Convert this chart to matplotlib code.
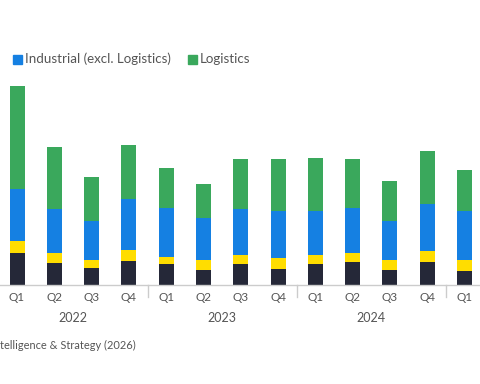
import matplotlib
matplotlib.use("Agg")
import matplotlib.pyplot as plt
from matplotlib.patches import Rectangle

quarters = ["Q1", "Q2", "Q3", "Q4"] * 3 + ["Q1"]
years = ["2022", "2023", "2024"]
navy_vals = [15.8, 11.2, 8.7, 12.2, 10.3, 7.7, 10.3, 7.8, 10.3, 11.3, 7.7, 11.3, 6.8]
yellow_vals = [6.2, 4.7, 3.7, 5.3, 3.7, 4.7, 4.5, 5.5, 4.7, 4.5, 4.8, 5.5, 5.5]
industrial_vals = [26.0, 22.2, 19.5, 25.7, 24.7, 21.2, 23.2, 23.8, 22.2, 22.8, 19.5, 23.8, 24.8]
logistics_vals = [51.3, 30.8, 22.0, 26.7, 19.7, 17.0, 24.8, 25.7, 26.5, 24.2, 20.2, 26.5, 20.3]
source_text = "telligence & Strategy (2026)"

colors = {"navy": "#252838", "yellow": "#FFDD00", "blue": "#1580E2", "green": "#3AA85C"}
text_color = "#555555"
font = "Lato"

W, H = 480, 384
fig = plt.figure(figsize=(4.8, 3.84), dpi=100)
base_px = 285
top_px = 40
ax = fig.add_axes([0, (H - base_px) / H, 1, (base_px - top_px) / H])

step_px = 37.3
x0_px = 17
xmin = -x0_px / step_px
xmax = xmin + W / step_px
ax.set_xlim(xmin, xmax)
ax.set_ylim(0, (base_px - top_px) / 2)

xs = list(range(len(quarters)))
bw = 15 / step_px
bottom = [0] * len(xs)
for vals, c in [(navy_vals, colors["navy"]), (yellow_vals, colors["yellow"]),
                (industrial_vals, colors["blue"]), (logistics_vals, colors["green"])]:
    ax.bar(xs, vals, bw, bottom=bottom, color=c, linewidth=0)
    bottom = [b + v for b, v in zip(bottom, vals)]

for s in ["top", "right", "left"]:
    ax.spines[s].set_visible(False)
ax.spines["bottom"].set_color("#cccccc")
ax.spines["bottom"].set_linewidth(1)
ax.set_yticks([])
ax.set_xticks(xs)
ax.set_xticklabels(quarters, fontsize=8.5, color=text_color, family=font)
ax.tick_params(axis="x", length=0, pad=5)

for sep in [3.5, 7.5, 11.5]:
    ax.axvline(sep, ymin=-12 / (base_px - top_px), ymax=0, color="#cccccc", lw=1, clip_on=False)

for i, y in enumerate(years):
    ax.text(4 * i + 1.5, -33 / 2, y, ha="center", va="center", fontsize=9, color=text_color, family=font)

fig.text(0.5 / W, 1 - 345 / H, source_text, ha="left", va="center",
         fontsize=7.9, color=text_color, family=font)

# legend
for xpx, label, c in [(13, "Industrial (excl. Logistics)", colors["blue"]), (188, "Logistics", colors["green"])]:
    fig.patches.append(Rectangle((xpx / W, 1 - 64 / H), 9 / W, 9 / H, transform=fig.transFigure,
                                 color=c, figure=fig))
    fig.text((xpx + 12) / W, 1 - 59 / H, label, ha="left", va="center", fontsize=9.6,
             color=text_color, family=font)

fig.savefig("out.png", dpi=100, facecolor="white")
